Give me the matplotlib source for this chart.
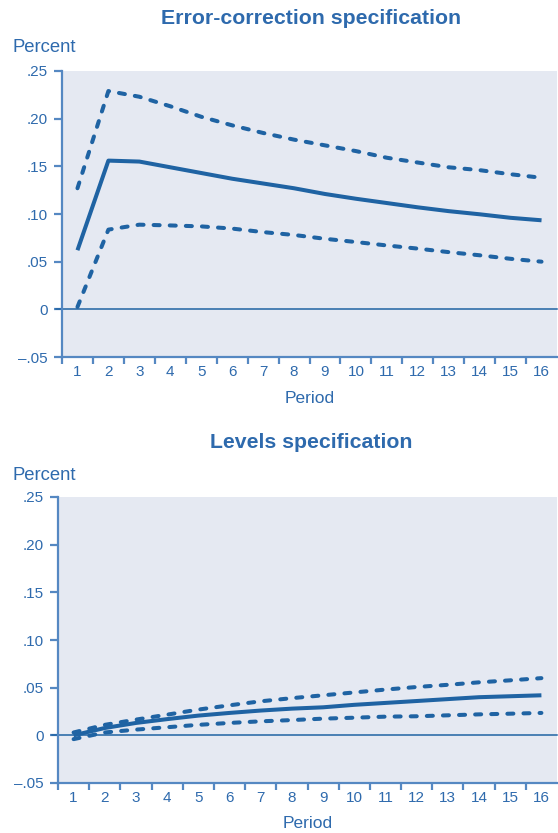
import matplotlib
matplotlib.use("Agg")
import matplotlib.pyplot as plt
import numpy as np

plt.rcParams['font.family'] = ['Liberation Sans', 'DejaVu Sans']

periods = list(range(1, 17))

# Error-correction specification
ec_mid = [0.062, 0.156, 0.155, 0.149, 0.143, 0.137, 0.132, 0.127,
          0.121, 0.116, 0.1115, 0.107, 0.103, 0.0997, 0.096, 0.0934]
ec_hi = [0.127, 0.229, 0.223, 0.213, 0.202, 0.193, 0.185, 0.178,
         0.172, 0.166, 0.159, 0.154, 0.149, 0.146, 0.1417, 0.138]
ec_lo = [0.0025, 0.0836, 0.0888, 0.088, 0.087, 0.0847, 0.081, 0.078,
         0.074, 0.0706, 0.067, 0.0637, 0.060, 0.0567, 0.053, 0.050]

# Levels specification
lv_mid = [0.000, 0.0077, 0.013, 0.017, 0.0207, 0.0235, 0.026, 0.028,
          0.0294, 0.032, 0.034, 0.036, 0.038, 0.040, 0.041, 0.042]
lv_hi = [0.003, 0.011, 0.0165, 0.0217, 0.027, 0.0315, 0.0357, 0.039,
         0.042, 0.045, 0.048, 0.0507, 0.053, 0.0556, 0.0577, 0.060]
lv_lo = [-0.004, 0.003, 0.006, 0.0085, 0.011, 0.013, 0.0147, 0.016,
         0.0175, 0.0185, 0.0196, 0.020, 0.021, 0.022, 0.0227, 0.0235]

yticks = [-0.05, 0, 0.05, 0.10, 0.15, 0.20, 0.25]
ylabels = ['\u2013.05', '0', '.05', '.10', '.15', '.20', '.25']

line_c = '#1f63a3'
text_c = '#2e6aad'
spine_c = '#5588c2'
bg_c = '#e5e9f2'

W, H = 558, 833
fig = plt.figure(figsize=(W / 100, H / 100), dpi=100)


def panel(rect, mid, hi, lo, title, title_y, pct_y, period_y):
    ax = fig.add_axes(rect)
    ax.set_facecolor(bg_c)
    ax.set_xlim(0.5, 16.5)
    ax.set_ylim(-0.05, 0.25)
    ax.axhline(0, color=line_c, lw=1.1, zorder=2, clip_on=False,
               xmin=-0.012, xmax=1)
    ax.plot(periods, mid, color=line_c, lw=2.9, solid_capstyle='butt', zorder=3)
    for s in (hi, lo):
        ax.plot(periods, s, color=line_c, lw=2.9, dashes=(1.5, 2.5),
                dash_capstyle='round', zorder=3)
    for side in ('top', 'right'):
        ax.spines[side].set_visible(False)
    for side in ('left', 'bottom'):
        ax.spines[side].set_color(spine_c)
        ax.spines[side].set_linewidth(1.6)
    ax.set_yticks(yticks)
    ax.set_yticklabels(ylabels)
    ax.set_xticks(periods)
    ax.set_xticklabels([str(p) for p in periods])
    ax.set_xticks(np.arange(0.5, 16.5, 1.0), minor=True)
    ax.tick_params(axis='x', which='major', length=0, pad=6,
                   labelsize=11, labelcolor=text_c)
    ax.tick_params(axis='x', which='minor', length=5, width=1.6,
                   color=spine_c)
    ax.tick_params(axis='y', length=6, width=1.6, color=spine_c, pad=4,
                   labelsize=11, labelcolor=text_c)
    cx = (rect[0] + rect[0] + rect[2]) / 2
    fig.text(311 / W, 1 - title_y / H, title, ha='center', va='center',
             fontsize=15.3, fontweight='bold', color=text_c)
    fig.text(13 / W, 1 - pct_y / H, 'Percent', ha='left', va='center',
             fontsize=13.3, color=text_c)
    fig.text(cx, 1 - period_y / H, 'Period', ha='center', va='center',
             fontsize=12.5, color=text_c)
    return ax


panel([62 / W, 1 - 357 / H, (557 - 62) / W, 286 / H], ec_mid, ec_hi, ec_lo,
      'Error-correction specification', 18, 48, 398)
panel([58 / W, 1 - 783 / H, (557 - 58) / W, 286 / H], lv_mid, lv_hi, lv_lo,
      'Levels specification', 443, 475, 824)

fig.savefig('out.png', dpi=100)
